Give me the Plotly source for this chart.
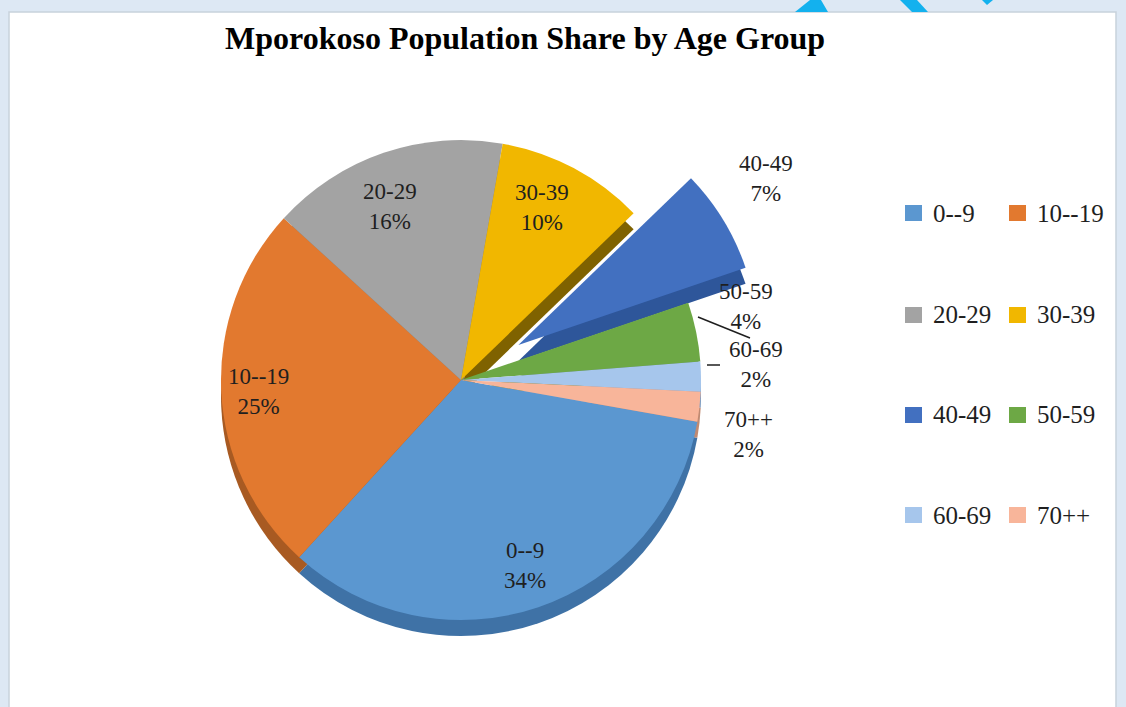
import plotly.graph_objects as go

# ---- data -------------------------------------------------------------
age_groups = ["0--9", "10--19", "20-29", "30-39", "40-49", "50-59", "60-69", "70++"]
share_pct = [34, 25, 16, 10, 7, 4, 2, 2]
pull_out = [0, 0, 0, 0, 0.28, 0, 0, 0]

# ---- styling ----------------------------------------------------------
face_colors = ["#5B97D0", "#E2792F", "#A3A3A3", "#F1B700",
               "#4270C0", "#6DA845", "#A6C6EC", "#F8B59A"]
side_colors = ["#3F72A6", "#A85A22", "#7A7A7A", "#7F6200",
               "#2E569A", "#4E7D31", "#7C9BC0", "#C08A72"]

W, H = 1126, 707
CX, CY, R = 461, 380, 240      # pie centre and radius (pixels)
DEPTH = 16                     # thickness of the pie's side wall
START_ANGLE = 100              # first slice starts just below 3 o'clock

SERIF = "Liberation Serif, Times New Roman, serif"
TEXT = "#1F1F1F"


def px(x):
    return x / W


def py(y):
    return 1 - y / H


half = R * (1 + max(pull_out))
dom_x = [px(CX - half), px(CX + half)]
dom_top = [py(CY + half), py(CY - half)]
dom_side = [py(CY + DEPTH + half), py(CY + DEPTH - half)]

common = dict(
    labels=age_groups,
    values=share_pct,
    sort=False,
    direction="clockwise",
    rotation=START_ANGLE,
    pull=pull_out,
    textinfo="none",
    showlegend=False,
    hovertemplate="%{label}: %{percent}<extra></extra>",
)

fig = go.Figure()
# side wall (drawn first, slightly lower)
fig.add_trace(go.Pie(
    **common,
    marker=dict(colors=side_colors, line=dict(width=0)),
    domain=dict(x=dom_x, y=dom_side),
))
# top face
fig.add_trace(go.Pie(
    **common,
    marker=dict(colors=face_colors, line=dict(width=0)),
    domain=dict(x=dom_x, y=dom_top),
))

# ---- data labels --------------------------------------------------------
label_xy = [(525, 565), (258, 391), (390, 206), (542, 208),
            (766, 178), (746, 306), (756, 365), (748, 434)]
annotations = []
for name, pct, (lx, ly) in zip(age_groups, share_pct, label_xy):
    annotations.append(dict(
        x=px(lx), y=py(ly), xref="paper", yref="paper",
        text=f"{name}<br>{pct}%", showarrow=False,
        xanchor="center", yanchor="middle", align="center",
        font=dict(family=SERIF, size=23, color=TEXT),
    ))

# ---- title --------------------------------------------------------------
annotations.append(dict(
    x=px(525), y=py(38), xref="paper", yref="paper",
    text="<b>Mporokoso Population Share by Age Group</b>", showarrow=False,
    xanchor="center", yanchor="middle",
    font=dict(family=SERIF, size=32, color="#000000"),
))

shapes = [
    # white chart card on the light blue page
    dict(type="rect", xref="paper", yref="paper",
         x0=px(9), x1=px(1116), y0=py(720), y1=py(12),
         fillcolor="#FFFFFF", line=dict(color="#C8D2DC", width=1.5),
         layer="below"),
    # leader lines for the small outside labels
    dict(type="line", xref="paper", yref="paper",
         x0=px(698), y0=py(317), x1=px(750), y1=py(338),
         line=dict(color=TEXT, width=1.5)),
    dict(type="line", xref="paper", yref="paper",
         x0=px(707), y0=py(365), x1=px(720), y1=py(365),
         line=dict(color=TEXT, width=1.5)),
]

# cyan pointer marks peeking over the top border
for path in ["M 795 12 L 810 0 L 821 0 L 828 12 Z",
             "M 900 0 L 917 0 L 928 12 L 912 12 Z",
             "M 982 0 L 993 0 L 987 5 Z"]:
    pts = path.split()
    conv = []
    i = 0
    while i < len(pts):
        if pts[i] in ("M", "L"):
            conv.append(f"{pts[i]} {px(float(pts[i+1])):.5f} {py(float(pts[i+2])):.5f}")
            i += 3
        else:
            conv.append(pts[i])
            i += 1
    shapes.append(dict(type="path", xref="paper", yref="paper",
                       path=" ".join(conv), fillcolor="#13B1EE",
                       line=dict(width=0), layer="above"))

# ---- legend (two columns, four rows) -----------------------------------
col_x = [905, 1009]
row_y = [213, 315, 415, 515]
for i, (name, colour) in enumerate(zip(age_groups, face_colors)):
    sx = col_x[i % 2]
    sy = row_y[i // 2]
    shapes.append(dict(type="rect", xref="paper", yref="paper",
                       x0=px(sx), x1=px(sx + 17), y0=py(sy + 8), y1=py(sy - 8),
                       fillcolor=colour, line=dict(width=0)))
    annotations.append(dict(
        x=px(sx + 26), y=py(sy), xref="paper", yref="paper",
        text=name, showarrow=False, xanchor="left", yanchor="middle",
        font=dict(family=SERIF, size=25, color=TEXT),
    ))

fig.update_layout(
    width=W, height=H,
    margin=dict(l=0, r=0, t=0, b=0),
    paper_bgcolor="#DDE8F4",
    plot_bgcolor="#FFFFFF",
    annotations=annotations,
    shapes=shapes,
)

fig.write_html("out.html")
